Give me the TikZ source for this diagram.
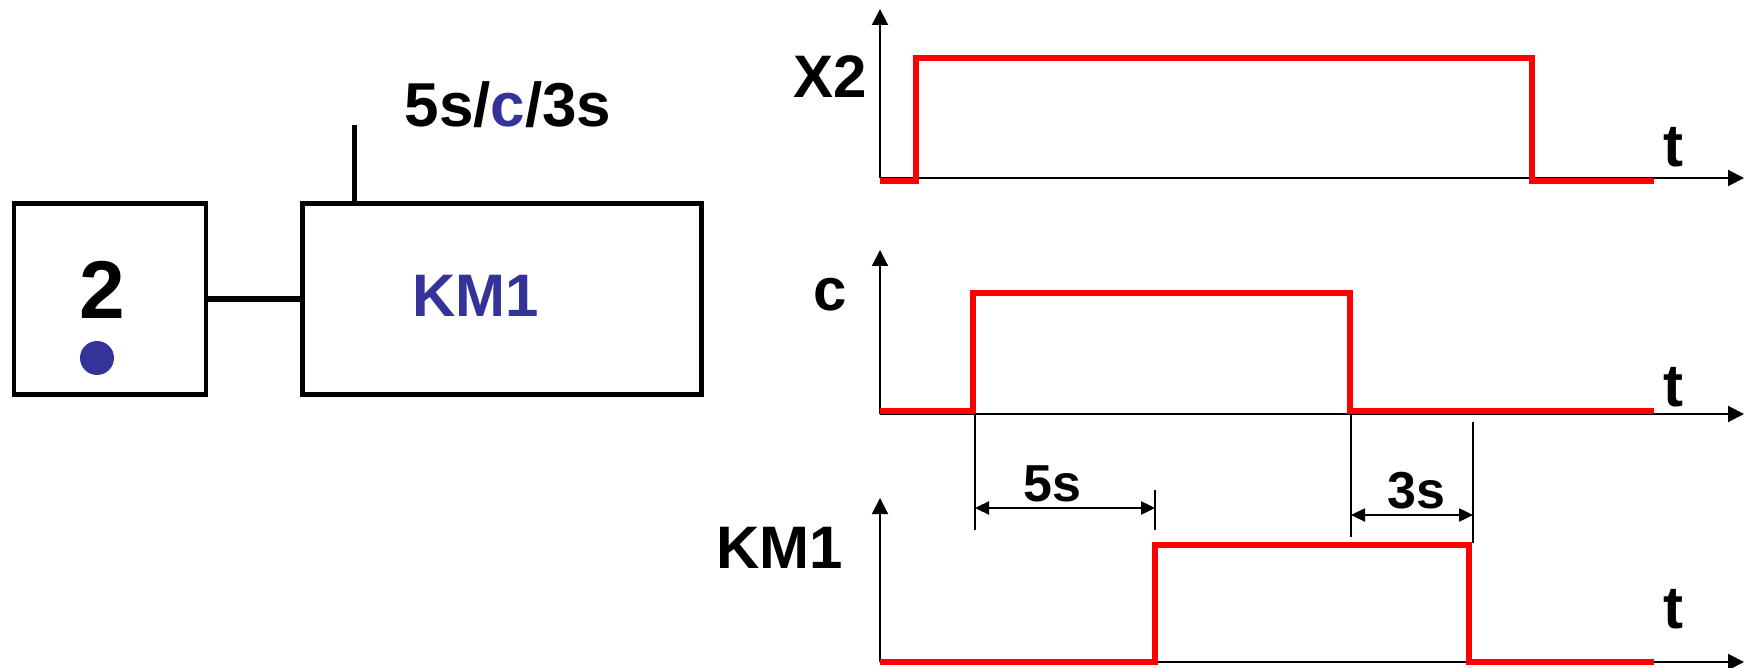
\documentclass[tikz,border=0pt]{standalone}
\usepackage{fontspec}
\setmainfont{Liberation Sans}
\usetikzlibrary{arrows.meta}
\definecolor{gblue}{RGB}{51,51,153}
\definecolor{sigred}{RGB}{255,0,0}
\begin{document}
\begin{tikzpicture}[x=0.5pt,y=-0.5pt,
  stepbox/.style={draw=black, line width=2.3pt, inner sep=0pt, outer sep=0pt, minimum width=96pt, minimum height=95.5pt},
  actbox/.style={draw=black, line width=2.3pt, inner sep=0pt, outer sep=0pt, minimum width=199.5pt, minimum height=95.5pt},
  link/.style={draw=black, line width=2.9pt},
  txt/.style={inner sep=0pt, anchor=base, font=\fontsize{30pt}{30pt}\selectfont\bfseries},
  bigtxt/.style={inner sep=0pt, anchor=base, font=\fontsize{41pt}{41pt}\selectfont\bfseries},
  dimtxt/.style={inner sep=0pt, anchor=base, font=\fontsize{26pt}{26pt}\selectfont\bfseries},
  axis/.style={draw=black, line width=1pt, -{Triangle[length=8pt,width=8pt]}},
  sig/.style={draw=sigred, line width=3pt, line join=miter},
  dimline/.style={draw=black, line width=0.75pt},
  dimarrow/.style={draw=black, line width=1.2pt, {Triangle[length=7pt,width=6.5pt]}-{Triangle[length=7pt,width=6.5pt]}}
]
\useasboundingbox (0,0) rectangle (1746,668);

% ---- Grafcet step and action ----
\node[stepbox] (step) at (110,299) {};
\node[actbox] (act) at (502,299) {};
\draw[link] (step.east) -- (act.west);
\coordinate (tick) at (354.5,125);
\draw[link] (tick) -- (tick |- act.north);
\node[bigtxt] (num) at (102,319) {2};
\fill[gblue] (97,358) circle (8.5pt);
\node[txt, text=gblue] (kmbox) at (476,317) {KM1};
\node[txt, font=\fontsize{31pt}{31pt}\selectfont\bfseries] (cond) at (508,127) {5s/\textcolor{gblue}{c}/3s};

% ---- X2 chronogram ----
\coordinate (oA) at (880,178);
\draw[axis] (oA) -- (1744,178);
\draw[axis] (oA) -- (880,9);
\node[txt] (lX2) at (830,98) {X2};
\node[txt] (tA) at (1673,167) {t};
\draw[sig] (880,181) -- (916,181) -- (916,58) -- (1532,58) -- (1532,181) -- (1654,181);

% ---- c chronogram ----
\coordinate (oB) at (880,414);
\draw[axis] (oB) -- (1744,414);
\draw[axis] (oB) -- (880,250);
\node[txt] (lc) at (830,311) {c};
\node[txt] (tB) at (1673,407) {t};
\draw[sig] (880,411) -- (973,411) -- (973,293) -- (1350,293) -- (1350,411) -- (1654,411);

% ---- KM1 chronogram ----
\coordinate (oC) at (880,662);
\draw[axis] (oC) -- (1744,662);
\draw[axis] (oC) -- (880,498);
\node[txt] (lKM) at (780,568) {KM1};
\node[txt] (tC) at (1673,628) {t};
\draw[sig] (880,662) -- (1155,662) -- (1155,545) -- (1469,545) -- (1469,662) -- (1654,662);

% ---- time dimensions ----
\coordinate (d1a) at (975,414);
\coordinate (d1b) at (975,530);
\coordinate (d2a) at (1155,490);
\coordinate (d2b) at (1155,530);
\coordinate (d3a) at (1351,414);
\coordinate (d3b) at (1351,537);
\coordinate (d4a) at (1473,422);
\coordinate (d4b) at (1473,543);
\draw[dimline] (d1a) -- (d1b);
\draw[dimline] (d2a) -- (d2b);
\draw[dimline] (d3a) -- (d3b);
\draw[dimline] (d4a) -- (d4b);
\draw[dimarrow] (975,508) -- (1155,508);
\draw[dimarrow] (1351,515) -- (1473,515);
\node[dimtxt] (l5s) at (1052,501) {5s};
\node[dimtxt] (l3s) at (1416,508) {3s};
\end{tikzpicture}
\end{document}
